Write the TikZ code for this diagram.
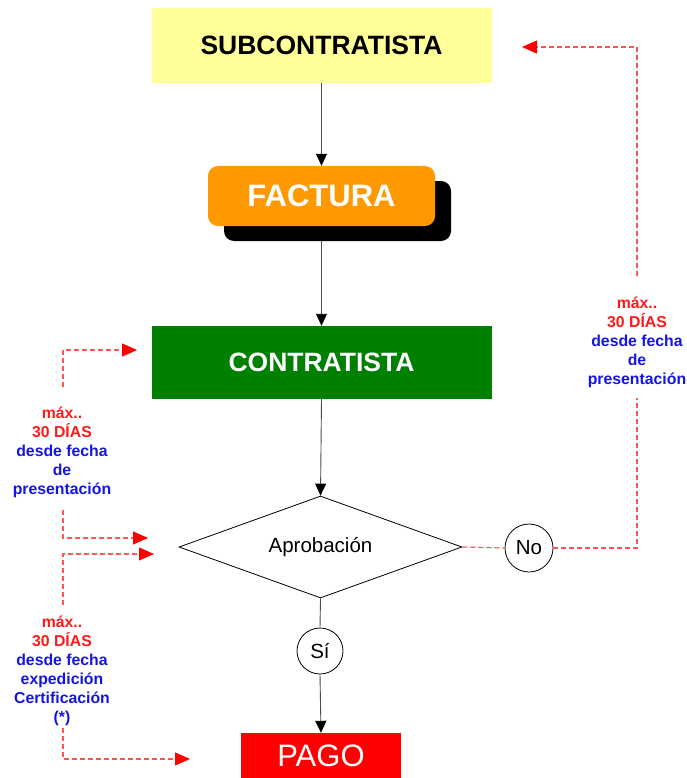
\documentclass[tikz,border=0pt]{standalone}
\usepackage{fontspec}
\setmainfont{Liberation Sans}
\usetikzlibrary{shapes.geometric,shadows,arrows.meta}
\definecolor{subyellow}{RGB}{255,255,153}
\definecolor{factorange}{RGB}{255,153,0}
\definecolor{contgreen}{RGB}{0,128,0}
\definecolor{dashred}{RGB}{255,85,85}
\definecolor{txtred}{RGB}{255,25,25}
\definecolor{txtblue}{RGB}{20,20,230}
\begin{document}
\begin{tikzpicture}[x=1pt,y=-1pt,
 box/.style={rectangle, inner sep=0pt, minimum width=340pt},
 bigbold/.style={font=\fontsize{26.5}{32}\selectfont\bfseries},
 flow/.style={draw=black!70, line width=0.9pt, -{Triangle[length=12pt,width=11pt,color=black,fill=black]}},
 flowplain/.style={draw=black!70, line width=0.9pt},
 circ/.style={circle, draw=black, line width=0.8pt, minimum size=46pt, inner sep=0pt, font=\fontsize{20.5}{24}\selectfont},
 dl/.style={draw=dashred, line width=1.2pt, dash pattern=on 5pt off 3pt},
 dla/.style={dl, -{Triangle[length=15pt,width=13pt,color=red,fill=red]}},
 note/.style={align=center, inner sep=0pt, font=\fontsize{15.8}{19}\selectfont\bfseries},
]
\useasboundingbox (0,0) rectangle (686,778);

% main boxes
\node[box, fill=subyellow, minimum height=75pt, bigbold] (sub) at (321.5,45.5) {SUBCONTRATISTA};
\node[rectangle, rounded corners=10pt, fill=factorange, minimum width=227pt, minimum height=60pt, inner sep=0pt, text=white, font=\fontsize{31}{36}\selectfont\bfseries, drop shadow={shadow xshift=16pt, shadow yshift=-15pt, fill=black, opacity=1}] (fac) at (321.5,196) {FACTURA};
\node[box, fill=contgreen, minimum height=73pt, text=white, bigbold] (con) at (321.5,362.5) {CONTRATISTA};
\node[diamond, shape aspect=2.77, draw, line width=0.8pt, minimum width=283pt, minimum height=102pt, inner sep=0pt, font=\fontsize{20.5}{24}\selectfont] (apr) at (320.5,547) {Aprobación};
\node[circ] (si) at (320,651) {Sí};
\node[circ, minimum size=48pt] (no) at (529,548) {No};
\node[rectangle, fill=red, minimum width=160pt, minimum height=46pt, inner sep=0pt, text=white, font=\fontsize{31}{36}\selectfont] (pago) at (321,756) {PAGO};

% notes
\node[note] (rtext) at (637,342) {\textcolor{txtred}{máx..}\\\textcolor{txtred}{30 DÍAS}\\\textcolor{txtblue}{desde fecha}\\\textcolor{txtblue}{de}\\\textcolor{txtblue}{presentación}};
\node[note] (ltext) at (62,452) {\textcolor{txtred}{máx..}\\\textcolor{txtred}{30 DÍAS}\\\textcolor{txtblue}{desde fecha}\\\textcolor{txtblue}{de}\\\textcolor{txtblue}{presentación}};
\node[note] (lbtext) at (62,671) {\textcolor{txtred}{máx..}\\\textcolor{txtred}{30 DÍAS}\\\textcolor{txtblue}{desde fecha}\\\textcolor{txtblue}{expedición}\\\textcolor{txtblue}{Certificación}\\\textcolor{txtblue}{(*)}};

% black flow
\draw[flow] (sub.south) -- (fac.north);
\draw[flow] ([yshift=-15pt]fac.south) -- (con.north);
\draw[flow] (con.south) -- (apr.north);
\draw[flowplain] (apr.south) -- (si.north);
\draw[flow] (si.south) -- (pago.north);

% dashed red connectors
\coordinate (rLow) at (637,398);
\coordinate (rHigh) at (637,276);
\coordinate (rTip) at (522,47);
\draw[dl] (apr.east) -- (no.west);
\draw[dl] (no.east) -| (rLow);
\draw[dla] (rHigh) |- (rTip);

\coordinate (lt1) at (63,387);
\coordinate (ltTip) at (137,350);
\coordinate (lt2) at (63,510);
\coordinate (ltTip2) at (148,538);
\draw[dla] (lt1) |- (ltTip);
\draw[dla] (lt2) |- (ltTip2);

\coordinate (lb1) at (63,605);
\coordinate (lbTip) at (154,554);
\coordinate (lb2) at (63,728);
\coordinate (lbTip2) at (190,759);
\draw[dla] (lb1) |- (lbTip);
\draw[dla] (lb2) |- (lbTip2);
\end{tikzpicture}
\end{document}
